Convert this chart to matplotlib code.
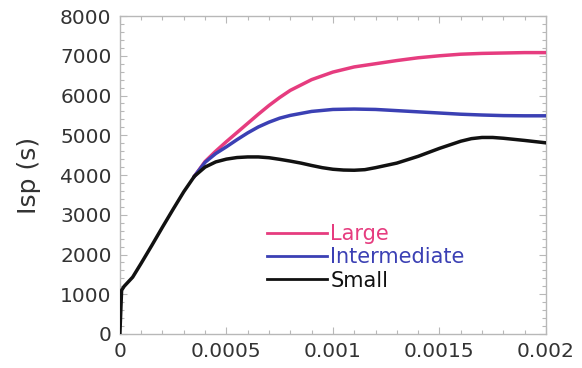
import matplotlib
matplotlib.use("Agg")
import matplotlib.pyplot as plt
from matplotlib.ticker import MultipleLocator, FuncFormatter

PINK = "#e63c7f"
BLUE = "#3b40b4"
BLACK = "#111111"
FRAME = "#b8b8b8"
TXT = "#333333"

# Small (black) - full trace from t=0
small_x = [0, 0.000008, 0.00002, 0.00006, 0.0001, 0.00015, 0.0002, 0.00025, 0.0003,
           0.00035, 0.0004, 0.00045, 0.0005, 0.00055, 0.0006, 0.00065, 0.0007, 0.00075,
           0.0008, 0.00085, 0.0009, 0.00095, 0.001, 0.00105, 0.0011, 0.00115, 0.0012,
           0.0013, 0.0014, 0.0015, 0.0016, 0.00165, 0.0017, 0.00175, 0.0018, 0.0019, 0.002]
small_y = [0, 1100, 1200, 1430, 1780, 2230, 2690, 3140, 3580,
           3970, 4200, 4330, 4400, 4440, 4455, 4455, 4435, 4395,
           4350, 4300, 4240, 4185, 4145, 4125, 4120, 4135, 4185,
           4300, 4470, 4670, 4850, 4915, 4945, 4945, 4925, 4870, 4810]

# Intermediate (blue) - splits from the common trace at ~0.00035
inter_x = [0.00035, 0.0004, 0.00045, 0.0005, 0.00055, 0.0006, 0.00065, 0.0007, 0.00075,
           0.0008, 0.0009, 0.001, 0.0011, 0.0012, 0.0013, 0.0014, 0.0015, 0.0016,
           0.0017, 0.0018, 0.0019, 0.002]
inter_y = [3970, 4320, 4540, 4710, 4890, 5060, 5210, 5330, 5430,
           5500, 5600, 5650, 5660, 5650, 5620, 5590, 5560, 5530,
           5510, 5495, 5490, 5490]

# Large (pink)
large_x = [0.00035, 0.0004, 0.00045, 0.0005, 0.00055, 0.0006, 0.00065, 0.0007, 0.00075,
           0.0008, 0.0009, 0.001, 0.0011, 0.0012, 0.0013, 0.0014, 0.0015, 0.0016,
           0.0017, 0.0018, 0.0019, 0.002]
large_y = [3970, 4340, 4600, 4840, 5070, 5300, 5530, 5750, 5950,
           6130, 6400, 6590, 6720, 6800, 6880, 6950, 7000, 7040,
           7060, 7070, 7080, 7080]

fig = plt.figure(figsize=(5.82, 3.68), dpi=100)
ax = fig.add_axes([0.206, 0.0924, 0.732, 0.864])

ax.plot(large_x, large_y, color=PINK, linewidth=2.5, label="Large", zorder=3)
ax.plot(inter_x, inter_y, color=BLUE, linewidth=2.5, label="Intermediate", zorder=4)
ax.plot(small_x, small_y, color=BLACK, linewidth=2.5, label="Small", zorder=5)

ax.set_xlim(0, 0.002)
ax.set_ylim(0, 8000)
ax.xaxis.set_major_locator(MultipleLocator(0.0005))
ax.xaxis.set_minor_locator(MultipleLocator(0.0001))
ax.yaxis.set_major_locator(MultipleLocator(1000))
ax.yaxis.set_minor_locator(MultipleLocator(200))
ax.xaxis.set_major_formatter(FuncFormatter(lambda v, _: "%g" % round(v, 6)))
ax.yaxis.set_major_formatter(FuncFormatter(lambda v, _: "%d" % v))

for s in ax.spines.values():
    s.set_color(FRAME)
    s.set_linewidth(1.0)
ax.tick_params(which="both", direction="in", top=True, right=True, color=FRAME)
ax.tick_params(which="major", length=5, width=0.8, labelsize=14.5, labelcolor=TXT, pad=6)
ax.tick_params(which="minor", length=3, width=0.8)

ax.set_ylabel("Isp (s)", fontsize=18, color=TXT, labelpad=14)

leg = ax.legend(loc="upper left", bbox_to_anchor=(0.345, 0.345), frameon=False,
                fontsize=15, handlelength=2.9, handletextpad=0.15, labelspacing=0.15,
                borderpad=0, borderaxespad=0, labelcolor="linecolor")
for line in leg.get_lines():
    line.set_linewidth(2.0)

fig.savefig("out.png", dpi=100)
